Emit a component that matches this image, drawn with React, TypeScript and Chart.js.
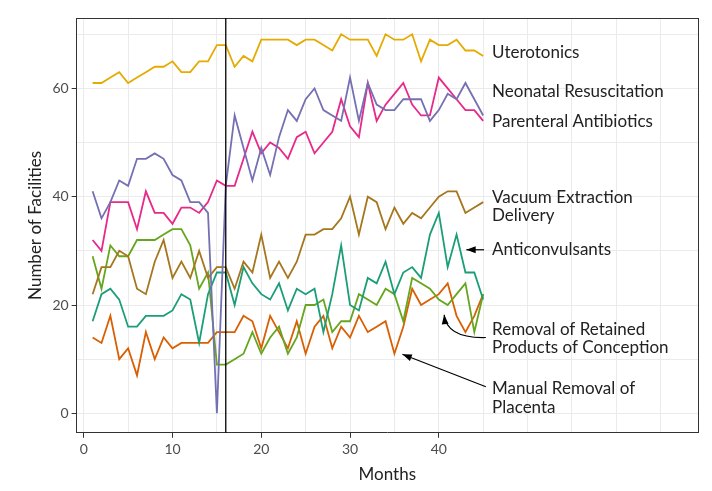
import { useEffect, useRef } from "react";
import Chart from "chart.js/auto";

const months = Array.from({ length: 45 }, (_, i) => i + 1);

const uterotonics = [61, 61, 62, 63, 61, 62, 63, 64, 64, 65, 63, 63, 65, 65, 68, 68, 64, 66, 65, 69, 69, 69, 69, 68, 69, 69, 68, 67, 70, 69, 69, 69, 66, 70, 69, 69, 70, 65, 69, 68, 68, 69, 67, 67, 66];
const neonatal = [41, 36, 39, 43, 42, 47, 47, 48, 47, 44, 43, 39, 39, 37, 0, 42, 55, 49, 43, 49, 44, 51, 56, 54, 58, 60, 56, 55, 54, 62, 54, 61, 57, 56, 56, 58, 58, 58, 54, 56, 59, 58, 61, 58, 55];
const parenteral = [32, 30, 39, 39, 39, 34, 41, 37, 37, 35, 38, 38, 37, 39, 43, 42, 42, 47, 52, 48, 50, 49, 47, 51, 52, 48, 50, 52, 58, 53, 51, 61, 54, 57, 59, 61, 57, 55, 55, 62, 60, 58, 56, 56, 54];
const vacuum = [22, 27, 27, 30, 29, 23, 22, 28, 32, 25, 28, 25, 30, 25, 27, 27, 23, 28, 26, 33, 25, 28, 25, 28, 33, 33, 34, 34, 36, 40, 33, 40, 39, 34, 38, 35, 37, 36, 38, 40, 41, 41, 37, 38, 39];
const anticonvulsants = [17, 22, 23, 21, 16, 16, 18, 18, 18, 19, 22, 21, 13, 22, 26, 26, 20, 27, 24, 22, 21, 24, 19, 23, 22, 23, 15, 22, 31, 20, 19, 25, 24, 28, 22, 26, 27, 25, 33, 37, 27, 33, 26, 26, 21];
const retained = [29, 23, 31, 29, 29, 32, 32, 32, 33, 34, 34, 31, 23, 26, 9, 9, 10, 11, 15, 11, 14, 16, 11, 14, 20, 20, 21, 15, 17, 17, 22, 21, 20, 23, 22, 17, 25, 24, 23, 21, 20, 22, 24, 15, 22];
const manual = [14, 13, 18, 10, 12, 7, 15, 10, 14, 12, 13, 13, 13, 13, 15, 15, 15, 18, 17, 12, 18, 15, 12, 17, 11, 16, 18, 12, 16, 14, 18, 15, 16, 17, 11, 16, 23, 20, 21, 22, 24, 18, 15, 18, 22];

const seriesNames = ["Uterotonics", "Neonatal Resuscitation", "Parenteral Antibiotics", "Vacuum Extraction Delivery", "Anticonvulsants", "Removal of Retained Products of Conception", "Manual Removal of Placenta"];
const seriesValues = [uterotonics, neonatal, parenteral, vacuum, anticonvulsants, retained, manual];
const seriesColors = ["#E6AB02", "#7570B3", "#E7298A", "#A6761D", "#1B9E77", "#66A61E", "#D95F02"];

// label text lines with [month, value] anchor
const labels: [string, number, number][] = [
  ["Uterotonics", 46, 66.6],
  ["Neonatal Resuscitation", 46, 59.5],
  ["Parenteral Antibiotics", 46, 53.9],
  ["Vacuum Extraction", 46, 39.9],
  ["Delivery", 46, 36.6],
  ["Anticonvulsants", 46, 30.2],
  ["Removal of Retained", 46, 15.5],
  ["Products of Conception", 46, 12.1],
  ["Manual Removal of", 46, 4.6],
  ["Placenta", 46, 1.1],
];

const FONT = "Lato, 'Open Sans', sans-serif";

const annotate = {
  id: "annotate",
  afterDatasetsDraw(chart: any) {
    const { ctx, scales, chartArea } = chart;
    const x = (v: number) => scales.x.getPixelForValue(v);
    const y = (v: number) => scales.y.getPixelForValue(v);
    ctx.save();
    ctx.strokeStyle = "#000";
    ctx.lineWidth = 1.3;
    ctx.beginPath();
    ctx.moveTo(x(16), chartArea.top);
    ctx.lineTo(x(16), chartArea.bottom);
    ctx.stroke();

    ctx.fillStyle = "#222";
    ctx.font = `17px ${FONT}`;
    ctx.textBaseline = "middle";
    labels.forEach(([t, mx, vy]) => ctx.fillText(t, x(mx), y(vy)));

    const head = (tx: number, ty: number, ang: number) => {
      ctx.beginPath();
      ctx.moveTo(tx, ty);
      ctx.lineTo(tx - 10 * Math.cos(ang - 0.35), ty - 10 * Math.sin(ang - 0.35));
      ctx.lineTo(tx - 10 * Math.cos(ang + 0.35), ty - 10 * Math.sin(ang + 0.35));
      ctx.closePath();
      ctx.fillStyle = "#000";
      ctx.fill();
    };
    ctx.lineWidth = 1.2;
    // anticonvulsants
    ctx.beginPath();
    ctx.moveTo(x(45.1), y(30.2));
    ctx.lineTo(x(43.1), y(30.2));
    ctx.stroke();
    head(x(43.1), y(30.2), Math.PI);
    // retained products
    const cx = x(40.9), cy = y(13.8);
    ctx.beginPath();
    ctx.moveTo(x(45.3), y(14));
    ctx.quadraticCurveTo(cx, cy, x(40.6), y(18.2));
    ctx.stroke();
    head(x(40.6), y(18.2), Math.atan2(y(18.2) - cy, x(40.6) - cx));
    // manual removal
    ctx.beginPath();
    ctx.moveTo(x(45.3), y(4.9));
    ctx.lineTo(x(35.9), y(10.9));
    ctx.stroke();
    head(x(35.9), y(10.9), Math.atan2(y(10.9) - y(4.9), x(35.9) - x(45.3)));
    ctx.restore();
  },
};

export default function App() {
  const canvasRef = useRef<HTMLCanvasElement | null>(null);

  useEffect(() => {
    document.body.style.margin = "0";
    if (!canvasRef.current) return;
    const chart = new Chart(canvasRef.current, {
      type: "line",
      data: {
        datasets: seriesValues.map((vals, i) => ({
          label: seriesNames[i],
          data: vals.map((v, j) => ({ x: months[j], y: v })),
          borderColor: seriesColors[i],
          borderWidth: 1.8,
          pointRadius: 0,
          tension: 0,
          fill: false,
        })),
      },
      options: {
        animation: false,
        responsive: false,
        layout: { padding: { top: 10, right: 6, left: 21, bottom: 2 } },
        plugins: { legend: { display: false }, tooltip: { enabled: false } },
        scales: {
          x: {
            type: "linear",
            min: -0.8,
            max: 69.2,
            afterBuildTicks: (axis: any) => {
              axis.ticks = [0, 5, 10, 15, 20, 25, 30, 35, 40, 45, 50, 55, 60, 65].map((v) => ({ value: v }));
            },
            ticks: {
              color: "#4d4d4d",
              font: { size: 14, family: FONT },
              callback: (v: any) => (v % 10 === 0 && v <= 40 ? String(v) : ""),
            },
            grid: { color: "#ebebeb", tickColor: (c: any) => (c.tick && c.tick.value % 10 === 0 && c.tick.value <= 40 ? "#333" : "transparent"), tickLength: 5 },
            border: { color: "#333", width: 1 },
            title: { display: true, text: "Months", color: "#222", font: { size: 17, family: FONT } },
          },
          y: {
            min: -3.6,
            max: 73,
            afterBuildTicks: (axis: any) => {
              axis.ticks = [0, 10, 20, 30, 40, 50, 60, 70].map((v) => ({ value: v }));
            },
            ticks: {
              color: "#4d4d4d",
              font: { size: 14, family: FONT },
              callback: (v: any) => (v % 20 === 0 && v <= 60 ? String(v) : ""),
            },
            grid: { color: "#ebebeb", tickColor: (c: any) => (c.tick && c.tick.value % 20 === 0 && c.tick.value <= 60 ? "#333" : "transparent"), tickLength: 5 },
            border: { color: "#333", width: 1 },
            title: { display: true, text: "Number of Facilities", color: "#222", font: { size: 17, family: FONT } },
          },
          x2: { position: "top", display: true, grid: { display: false }, ticks: { display: false }, border: { color: "#333" } },
          y2: { position: "right", display: true, grid: { display: false }, ticks: { display: false }, border: { color: "#333" } },
        },
      },
      plugins: [annotate],
    });
    return () => chart.destroy();
  }, []);

  return <canvas ref={canvasRef} width={712} height={491} />;
}
